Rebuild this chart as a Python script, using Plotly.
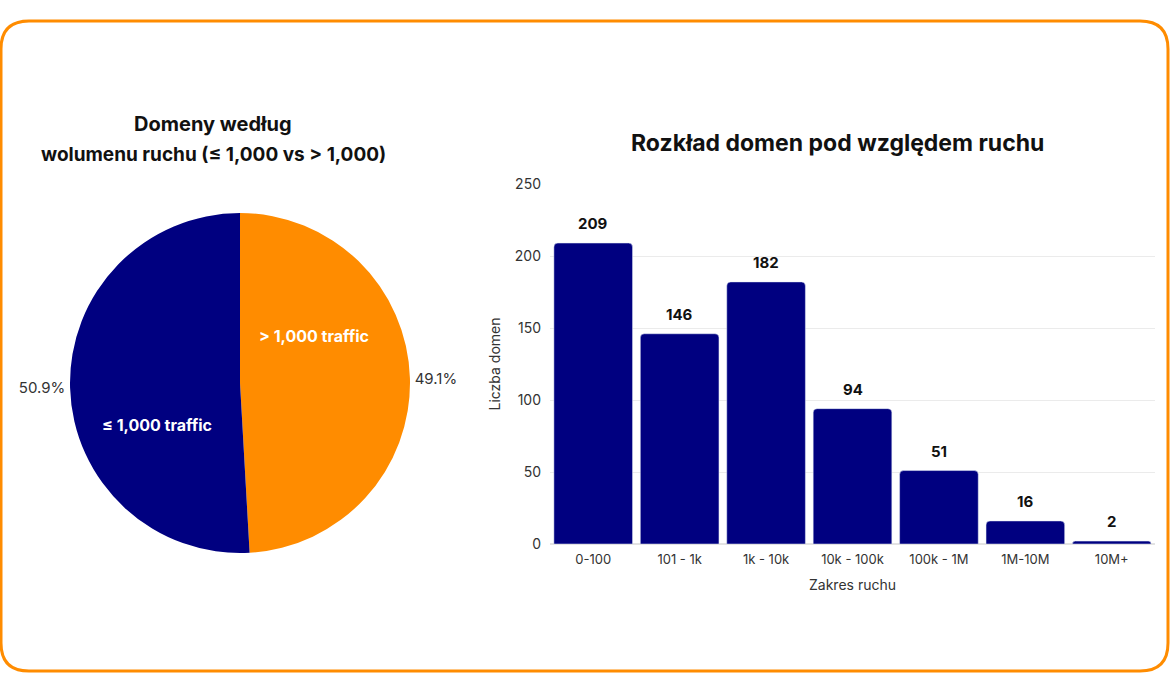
import plotly.graph_objects as go

# pie data
pie_labels = ['> 1,000 traffic', '≤ 1,000 traffic']
pie_values = [49.1, 50.9]
pie_colors = ['#FF8C00', '#000080']

# bar data
bar_cats = ['0-100', '101 - 1k', '1k - 10k', '10k - 100k', '100k - 1M', '1M-10M', '10M+']
bar_vals = [209, 146, 182, 94, 51, 16, 2]
y_ticks = [0, 50, 100, 150, 200, 250]

W, H = 1170, 694
FONT = 'Inter'


def px(x):
    return x / W


def py(y):
    return 1 - y / H


fig = go.Figure()

fig.add_trace(go.Pie(
    labels=pie_labels, values=pie_values, sort=False, direction='clockwise', rotation=0,
    marker=dict(colors=pie_colors),
    texttemplate='%{percent:.1%}', textposition='outside',
    textfont=dict(family=FONT, size=15, color='#333333'),
    domain=dict(x=[px(0), px(480)], y=[py(553), py(213)]),
    showlegend=False, hoverinfo='label+percent', automargin=False
))

fig.add_trace(go.Bar(
    x=bar_cats, y=bar_vals, marker=dict(color='#000080'),
    showlegend=False, xaxis='x', yaxis='y'
))

annotations = []
# labels inside the pie slices
annotations.append(dict(x=px(314), y=py(336), xref='paper', yref='paper', text='<b>> 1,000 traffic</b>',
                        xanchor='center', showarrow=False, font=dict(family=FONT, size=16, color='white')))
annotations.append(dict(x=px(157), y=py(425), xref='paper', yref='paper', text='<b>≤ 1,000 traffic</b>',
                        xanchor='center', showarrow=False, font=dict(family=FONT, size=16, color='white')))

# titles
annotations.append(dict(x=px(213), y=py(110), xref='paper', yref='paper', text='<b>Domeny według</b>',
                        xanchor='center', showarrow=False, font=dict(family=FONT, size=20, color='#111111')))
annotations.append(dict(x=px(213), y=py(141), xref='paper', yref='paper',
                        text='<b>wolumenu ruchu (≤ 1,000 vs > 1,000)</b>',
                        xanchor='center', showarrow=False, font=dict(family=FONT, size=19, color='#111111')))
annotations.append(dict(x=px(837), y=py(127), xref='paper', yref='paper',
                        text='<b>Rozkład domen pod względem ruchu</b>',
                        xanchor='center', showarrow=False, font=dict(family=FONT, size=23, color='#111111')))

# value labels above bars
for c, v in zip(bar_cats, bar_vals):
    annotations.append(dict(x=c, y=v, xref='x', yref='y', text=f'<b>{v}</b>', showarrow=False,
                            xanchor='center', yanchor='bottom', yshift=8,
                            font=dict(family=FONT, size=15, color='#111111')))

# orange rounded frame
x0, x1, y0, y1, r = 1, 1168, 21, 671, 28
frame = (f'M {px(x0 + r)},{py(y0)} L {px(x1 - r)},{py(y0)} Q {px(x1)},{py(y0)} {px(x1)},{py(y0 + r)} '
         f'L {px(x1)},{py(y1 - r)} Q {px(x1)},{py(y1)} {px(x1 - r)},{py(y1)} '
         f'L {px(x0 + r)},{py(y1)} Q {px(x0)},{py(y1)} {px(x0)},{py(y1 - r)} '
         f'L {px(x0)},{py(y0 + r)} Q {px(x0)},{py(y0)} {px(x0 + r)},{py(y0)} Z')

fig.update_layout(
    width=W, height=H,
    margin=dict(l=0, r=0, t=0, b=0, autoexpand=False),
    paper_bgcolor='white', plot_bgcolor='white',
    font=dict(family=FONT, color='#333333'),
    bargap=0.09, barcornerradius=4,
    xaxis=dict(domain=[px(550), px(1155)], showgrid=False, showline=False, zeroline=False,
               automargin=False, ticklabelstandoff=6,
               tickfont=dict(family=FONT, size=13, color='#333333'),
               title=dict(text='Zakres ruchu', font=dict(family=FONT, size=14, color='#333333'), standoff=14)),
    yaxis=dict(domain=[py(544), py(184)], range=[0, 250], tickvals=y_ticks,
               showgrid=True, gridcolor='#ebebeb', zeroline=True, zerolinecolor='#e3e3e3',
               ticklabelstandoff=8, automargin=False,
               tickfont=dict(family=FONT, size=14, color='#333333'),
               title=dict(text='Liczba domen', font=dict(family=FONT, size=14, color='#333333'), standoff=10)),
    annotations=annotations,
    shapes=[dict(type='path', path=frame, xref='paper', yref='paper',
                 line=dict(color='#FF8C00', width=3), layer='above')],
)

# drop the browser's default body margin so the 1170x694 figure fills the window
fig.write_html('out.html', config={'displayModeBar': False},
               post_script="document.body.style.margin='0';")
